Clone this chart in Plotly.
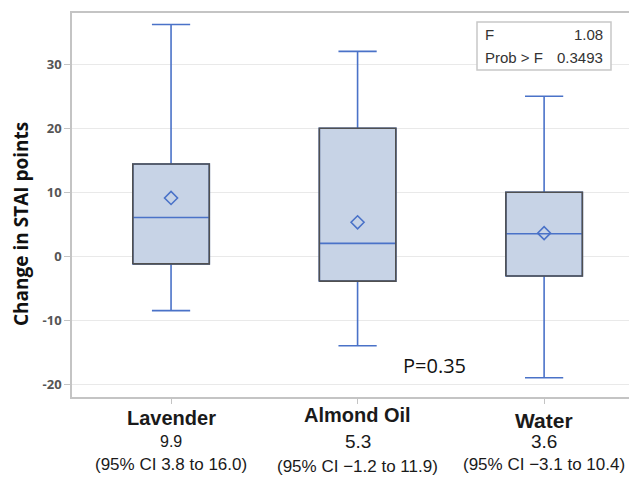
import plotly.graph_objects as go

# ---- data ----
categories = ["Lavender", "Almond Oil", "Water"]
lower = [-8.5, -14.0, -19.0]
q1 = [-1.2, -3.9, -3.1]
median = [6.05, 2.0, 3.5]
q3 = [14.4, 20.0, 10.0]
upper = [36.2, 32.0, 25.0]
means = [9.1, 5.3, 3.6]
mean_labels = ["9.9", "5.3", "3.6"]
ci_labels = ["(95% CI 3.8 to 16.0)", "(95% CI \u22121.2 to 11.9)", "(95% CI \u22123.1 to 10.4)"]
y_ticks = [-20, -10, 0, 10, 20, 30]
y_tick_labels = ["-20", "-10", "0", "10", "20", "30"]
f_value = "1.08"
prob_value = "0.3493"
p_text = "P=0.35"

# ---- style ----
BLUE = "#4a72c8"
FILL = "#c7d3e6"
EDGE = "#505050"
GRID = "#e9e9e9"
AXIS = "#c4c4c4"
OFF = 8  # page body margin
W, H = 637 - OFF, 477 - OFF
ML, MR, MT = 72 - OFF, 0, 13 - OFF
MB = H - (397 - OFF)
PW, PH = W - ML - MR, H - MT - MB

# per-label pixel rows / sizes (layout only)
name_rows = [418, 415, 420]
value_rows = [441, 441, 441]
ci_rows = [464, 466, 464]
value_sizes = [16, 19, 19]
name_sizes = [20, 20, 21]

pos = list(range(len(categories)))
box_w = 0.41
half = box_w / 2

def px_x(p):
    # p: pixel position in the 637x477 window
    return (p - OFF - ML) / PW

def px_y(p):
    return (H - MB - (p - OFF)) / PH

fig = go.Figure()

fig.add_trace(go.Box(
    x=pos, q1=q1, median=median, q3=q3, lowerfence=lower, upperfence=upper,
    width=box_w, whiskerwidth=0.5, fillcolor=FILL,
    line=dict(color=BLUE, width=1.6), boxpoints=False, hoverinfo="skip",
    showlegend=False,
))

# dark outline of each box
ox, oy = [], []
for p, a, b in zip(pos, q1, q3):
    ox += [p - half, p + half, p + half, p - half, p - half, None]
    oy += [a, a, b, b, a, None]
fig.add_trace(go.Scatter(x=ox, y=oy, mode="lines", line=dict(color=EDGE, width=1.6),
                         hoverinfo="skip", showlegend=False))

fig.add_trace(go.Scatter(
    x=pos, y=means, mode="markers",
    marker=dict(symbol="diamond-open", size=10, color=BLUE, line=dict(width=1.6, color=BLUE)),
    hoverinfo="skip", showlegend=False,
))

fig.update_layout(
    width=W, height=H,
    margin=dict(l=ML, r=MR, t=MT, b=MB),
    paper_bgcolor="white", plot_bgcolor="white",
    font=dict(family="Liberation Sans, Arial, sans-serif", color="#222"),
    showlegend=False,
)
fig.update_xaxes(
    range=[-0.531, 2.498], tickvals=pos, ticktext=["" for _ in pos],
    showgrid=False, zeroline=False, showline=True, mirror=True,
    linecolor=AXIS, linewidth=1.5, ticks="outside", ticklen=5, tickcolor=AXIS,
)
fig.update_yaxes(
    range=[-22, 38], tickvals=y_ticks, ticktext=y_tick_labels,
    showgrid=True, gridcolor=GRID, gridwidth=1.2,
    zeroline=False, showline=True, linecolor=AXIS, linewidth=1.5,
    ticks="outside", ticklen=6, tickcolor=AXIS, automargin=False,
    tickfont=dict(family="Open Sans, sans-serif", size=13, color="#555", weight="bold"),
)

ann = []
ann.append(dict(text="Change in STAI points", textangle=-90, xref="paper", yref="paper",
                x=px_x(21), y=px_y(224), showarrow=False, xanchor="center", yanchor="middle",
                font=dict(family="Open Sans, sans-serif", size=19, color="#111", weight="bold")))
for p, c, m, ci, r1, r2, r3, vs, ns in zip(pos, categories, mean_labels, ci_labels,
                                           name_rows, value_rows, ci_rows, value_sizes, name_sizes):
    ann.append(dict(text="<b>" + c + "</b>", xref="x", yref="paper", x=p, y=px_y(r1),
                    showarrow=False, xanchor="center", yanchor="middle",
                    font=dict(size=ns, color="#1a1a1a")))
    ann.append(dict(text=m, xref="x", yref="paper", x=p, y=px_y(r2),
                    showarrow=False, xanchor="center", yanchor="middle",
                    font=dict(size=vs, color="#1a1a1a")))
    ann.append(dict(text=ci, xref="x", yref="paper", x=p, y=px_y(r3),
                    showarrow=False, xanchor="center", yanchor="middle",
                    font=dict(size=17, color="#1a1a1a")))
ann.append(dict(text=p_text, xref="x", yref="y", x=1.415, y=-17.0, showarrow=False,
                xanchor="center", yanchor="middle",
                font=dict(family="Open Sans, sans-serif", size=20, color="#111")))
# F statistics box
for txt, xp, yp, anc in [("F", 483, 35, "left"), (f_value, 605, 35, "right"),
                         ("Prob > F", 483, 57, "left"), (prob_value, 605, 57, "right")]:
    ann.append(dict(text=txt, xref="paper", yref="paper", x=px_x(xp), y=px_y(yp), showarrow=False,
                    xanchor=anc, yanchor="middle", font=dict(size=15, color="#333")))
fig.update_layout(annotations=ann)

fig.add_shape(type="rect", xref="paper", yref="paper", x0=px_x(477), x1=px_x(611),
              y0=px_y(70), y1=px_y(22), fillcolor="white", line=dict(color="#c8c8c8", width=1.5),
              layer="above")
fig.write_html("out.html")
